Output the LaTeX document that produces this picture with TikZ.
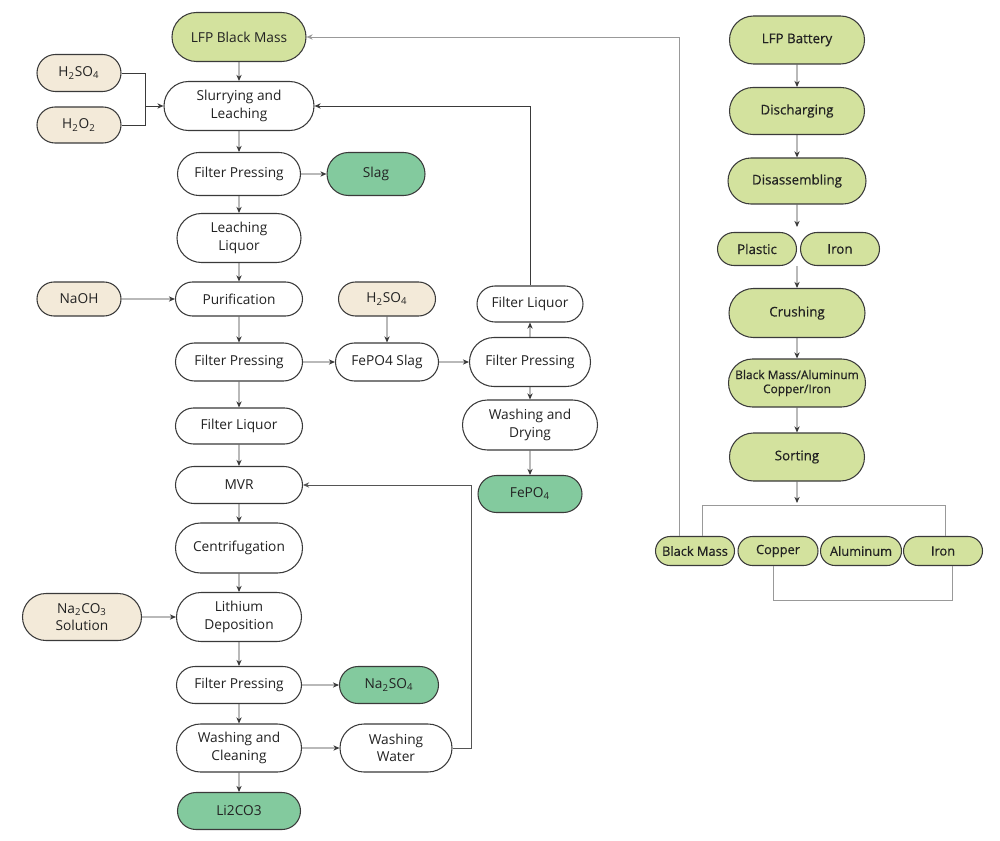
\documentclass[tikz,border=0pt]{standalone}
\usepackage{fontspec}
\setmainfont{Open Sans}
\newfontfamily\semib[FakeBold=0.5]{Open Sans}
\usetikzlibrary{shapes.misc,arrows.meta}
\definecolor{cOlive}{HTML}{D3E29E}
\definecolor{cBeige}{HTML}{F3EAD9}
\definecolor{cGreen}{HTML}{83CA9E}
\definecolor{cLine}{HTML}{3A3A3A}
\definecolor{cText}{HTML}{222222}
\definecolor{cGrayA}{HTML}{555555}
\definecolor{cGrayB}{HTML}{999999}
\begin{document}
\begin{tikzpicture}[x=0.02cm,y=-0.02cm,
  box/.style={rounded rectangle, draw=cLine, line width=0.6pt, inner sep=0pt, align=center,
    text=cText, font=\fontsize{7.8}{9.8}\selectfont},
  wbox/.style={box, fill=white},
  ybox/.style={box, fill=cOlive},
  rbox/.style={box, fill=cOlive, font=\semib\fontsize{7.6}{9.4}\selectfont},
  bbox/.style={box, fill=cBeige},
  gbox/.style={box, fill=cGreen},
  sz/.style 2 args={minimum width=#1*0.02cm, minimum height=#2*0.02cm},
  arr/.style={draw=cLine, line width=0.5pt, -{Stealth[length=3.5pt,width=3pt]}},
  arrg/.style={draw=cGrayA, line width=0.5pt, -{Stealth[length=3.5pt,width=3pt]}},
  arrl/.style={draw=cGrayB, line width=0.5pt, -{Stealth[length=3.5pt,width=3pt]}},
  ln/.style={draw=cLine, line width=0.5pt},
  lnl/.style={draw=cGrayB, line width=0.5pt}
]
\useasboundingbox[fill=white] (0,0) rectangle (1000,841);

% ---------- left column ----------
\node[ybox,sz={134}{49}] (lbm) at (239,37) {LFP Black Mass};
\node[bbox,sz={84}{37}] (h2so4a) at (79,73) {H\textsubscript{2}SO\textsubscript{4}};
\node[bbox,sz={84}{36}] (h2o2) at (79,125) {H\textsubscript{2}O\textsubscript{2}};
\node[wbox,sz={150}{49}] (slur) at (239,106) {Slurrying and\\Leaching};
\node[wbox,sz={123}{43}] (fp1) at (239,174) {Filter Pressing};
\node[gbox,sz={98}{43}] (slag) at (376,174) {Slag};
\node[wbox,sz={124}{49}] (ll) at (239,238) {Leaching\\Liquor};
\node[bbox,sz={84}{34}] (naoh) at (79,299) {NaOH};
\node[wbox,sz={127}{34}] (pur) at (239,299) {Purification};
\node[wbox,sz={127}{38}] (fp2) at (239,362) {Filter Pressing};
\node[bbox,sz={97}{34}] (h2so4b) at (387,299) {H\textsubscript{2}SO\textsubscript{4}};
\node[wbox,sz={103}{38}] (fes) at (387,362) {FePO4 Slag};
\node[wbox,sz={121}{49}] (fp3) at (530,362) {Filter Pressing};
\node[wbox,sz={106}{36}] (flm) at (530,304) {Filter Liquor};
\node[wbox,sz={135}{50}] (wd) at (530,425) {Washing and\\Drying};
\node[gbox,sz={104}{37}] (fepo4) at (530,494) {FePO\textsubscript{4}};
\node[wbox,sz={127}{36}] (fl) at (239,426) {Filter Liquor};
\node[wbox,sz={127}{37}] (mvr) at (239,485) {MVR};
\node[wbox,sz={127}{50}] (cen) at (239,548) {Centrifugation};
\node[bbox,sz={119}{47}] (na2co3) at (82,617) {Na\textsubscript{2}CO\textsubscript{3}\\Solution};
\node[wbox,sz={125}{49}] (ld) at (239,617) {Lithium\\Deposition};
\node[wbox,sz={125}{37}] (fp4) at (239,685) {Filter Pressing};
\node[gbox,sz={99}{37}] (na2so4) at (389,685) {Na\textsubscript{2}SO\textsubscript{4}};
\node[wbox,sz={125}{48}] (wc) at (239,748) {Washing and\\Cleaning};
\node[wbox,sz={112}{48}] (ww) at (396,748) {Washing\\Water};
\node[gbox,sz={123}{37}] (li) at (239,811) {Li2CO3};

% ---------- right column ----------
\node[rbox,sz={135}{48}] (bat) at (797,40) {LFP Battery};
\node[rbox,sz={135}{47}] (dis) at (797,111) {Discharging};
\node[rbox,sz={138}{46}] (dsa) at (797,181) {Disassembling};
\node[rbox,sz={79}{33}] (pla) at (757,249) {Plastic};
\node[rbox,sz={79}{33}] (iront) at (840,249) {Iron};
\node[rbox,sz={136}{49}] (cru) at (797,313) {Crushing};
\node[rbox,sz={137}{48},font=\semib\fontsize{6.8}{8}\selectfont] (bma) at (797,383) {Black Mass/Aluminum\\Copper/Iron};
\node[rbox,sz={135}{48}] (sor) at (797,457) {Sorting};
\node[rbox,sz={79}{29},font=\semib\fontsize{7.3}{9}\selectfont] (bm) at (695,551) {Black Mass};
\node[rbox,sz={80}{29},font=\semib\fontsize{7.3}{9}\selectfont] (cu) at (778,551) {Copper};
\node[rbox,sz={81}{29},font=\semib\fontsize{7.3}{9}\selectfont] (al) at (861,551) {Aluminum};
\node[rbox,sz={79}{29},font=\semib\fontsize{7.3}{9}\selectfont] (fe) at (943,551) {Iron};

% ---------- left connectors ----------
\coordinate (j1) at (145,106);
\draw[arr] (lbm) -- (slur);
\draw[ln] (h2so4a.east) -| (j1);
\draw[ln] (h2o2.east) -| (j1);
\draw[arr] (j1) -- (slur.west);
\draw[arr] (slur) -- (fp1);
\draw[arr] (fp1) -- (slag);
\draw[arr] (fp1) -- (ll);
\draw[arr] (ll) -- (pur);
\draw[arr] (naoh) -- (pur);
\draw[arr] (pur) -- (fp2);
\draw[arr] (fp2) -- (fes);
\draw[arr] (h2so4b) -- (fes);
\draw[arr] (fes) -- (fp3);
\draw[arr] (fp3) -- (flm);
\draw[arr] (flm.north) |- (slur.east);
\draw[arr] (fp3) -- (wd);
\draw[arr] (wd) -- (fepo4);
\draw[arr] (fp2) -- (fl);
\draw[arr] (fl) -- (mvr);
\draw[arr] (mvr) -- (cen);
\draw[arr] (cen) -- (ld);
\draw[arr] (na2co3) -- (ld);
\draw[arr] (ld) -- (fp4);
\draw[arr] (fp4) -- (na2so4);
\draw[arr] (fp4) -- (wc);
\draw[arr] (wc) -- (ww);
\draw[arr] (wc) -- (li);
\coordinate (wwr) at (471,748);
\draw[arrg] (ww.east) -- (wwr) |- (mvr.east);

% ---------- right connectors ----------
\coordinate (gapT) at (797,227);
\coordinate (gapB) at (797,266);
\coordinate (sorB) at (797,503);
\draw[arr] (bat) -- (dis);
\draw[arr] (dis) -- (dsa);
\draw[arr] (dsa) -- (gapT);
\draw[arr] (gapB) -- (cru);
\draw[arr] (cru) -- (bma);
\draw[arr] (bma) -- (sor);
\draw[arr] (sor) -- (sorB);
\coordinate (sl) at (702,505);
\coordinate (sr) at (945,505);
\draw[lnl] (sl |- bm.north) -- (sl) -- (sr) -- (sr |- fe.north);
\coordinate (cb) at (773,600);
\coordinate (fb) at (952,600);
\draw[lnl] (cb |- cu.south) -- (cb) -- (fb) -- (fb |- fe.south);
\coordinate (bmr) at (679,37);
\draw[arrl] (bm.north -| bmr) -- (bmr) -- (lbm.east);
\end{tikzpicture}
\end{document}
